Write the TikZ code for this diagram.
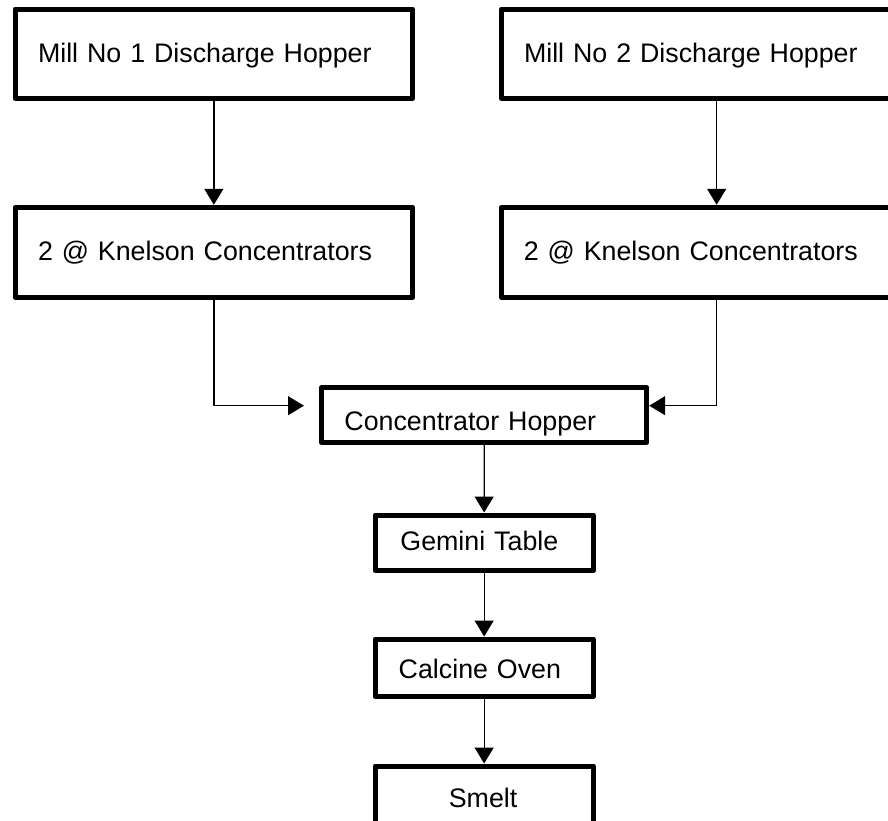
\documentclass[tikz,border=0pt]{standalone}
\usepackage{fontspec}
\setmainfont{Liberation Sans}
\usetikzlibrary{arrows.meta}
\newcommand{\boxfont}{\fontsize{26.8pt}{32pt}\selectfont}
\tikzset{
  blk/.style={draw, line width=5pt, line join=round, inner ysep=0pt, text depth=0pt, align=left, font=\boxfont, anchor=center},
  conn/.style={line width=1.3pt, -{Triangle[length=16pt,width=19pt]}}
}
\begin{document}
\begin{tikzpicture}[x=1pt,y=-1pt]
\useasboundingbox (0,0) rectangle (888,820);
\fill[white] (0,0) rectangle (888,820);
\clip (0,0) rectangle (888,820);
\node[blk, minimum width=397.7pt, minimum height=89.3pt, inner xsep=23pt, text width=351.7pt, text height=18pt] (m1) at (213.85,53.65) {Mill No 1 Discharge Hopper};
\node[blk, minimum width=397.7pt, minimum height=90pt, inner xsep=23pt, text width=351.7pt, text height=16.8pt] (k1) at (213.85,252.3) {2 @ Knelson Concentrators};
\node[blk, minimum width=430.7pt, minimum height=89.3pt, inner xsep=22.7pt, text width=385.3pt, text height=18pt] (m2) at (716.65,53.65) {Mill No 2 Discharge Hopper};
\node[blk, minimum width=430.7pt, minimum height=90pt, inner xsep=22.5pt, text width=385.7pt, text height=16.8pt] (k2) at (716.65,252.3) {2 @ Knelson Concentrators};
\node[blk, minimum width=325pt, minimum height=55pt, inner xsep=22.7pt, text width=279.6pt, text height=30pt] (hop) at (484.2,415) {Concentrator Hopper};
\node[blk, minimum width=218.3pt, minimum height=55.5pt, inner xsep=25.4pt, text width=167.5pt, text height=16pt] (gem) at (484.15,542.75) {Gemini Table};
\node[blk, minimum width=218.3pt, minimum height=57.5pt, inner xsep=23.7pt, text width=170.9pt, text height=21.2pt] (cal) at (484.15,667.75) {Calcine Oven};
\node[blk, minimum width=218.3pt, minimum height=57pt, inner xsep=73.8pt, text width=70.7pt, text height=26pt] (sme) at (484.15,794.5) {Smelt};
\coordinate (jL) at (304,405.7);
\coordinate (jR) at (649.2,405.7);
\draw[conn] (m1.south) -- (k1.north);
\draw[conn] (m2.south) -- (k2.north);
\draw[conn] (k1.south) |- (jL);
\draw[conn] (k2.south) |- (jR);
\draw[conn] (hop.south) -- (gem.north);
\draw[conn] (gem.south) -- (cal.north);
\draw[conn] (cal.south) -- (sme.north);
\end{tikzpicture}
\end{document}
